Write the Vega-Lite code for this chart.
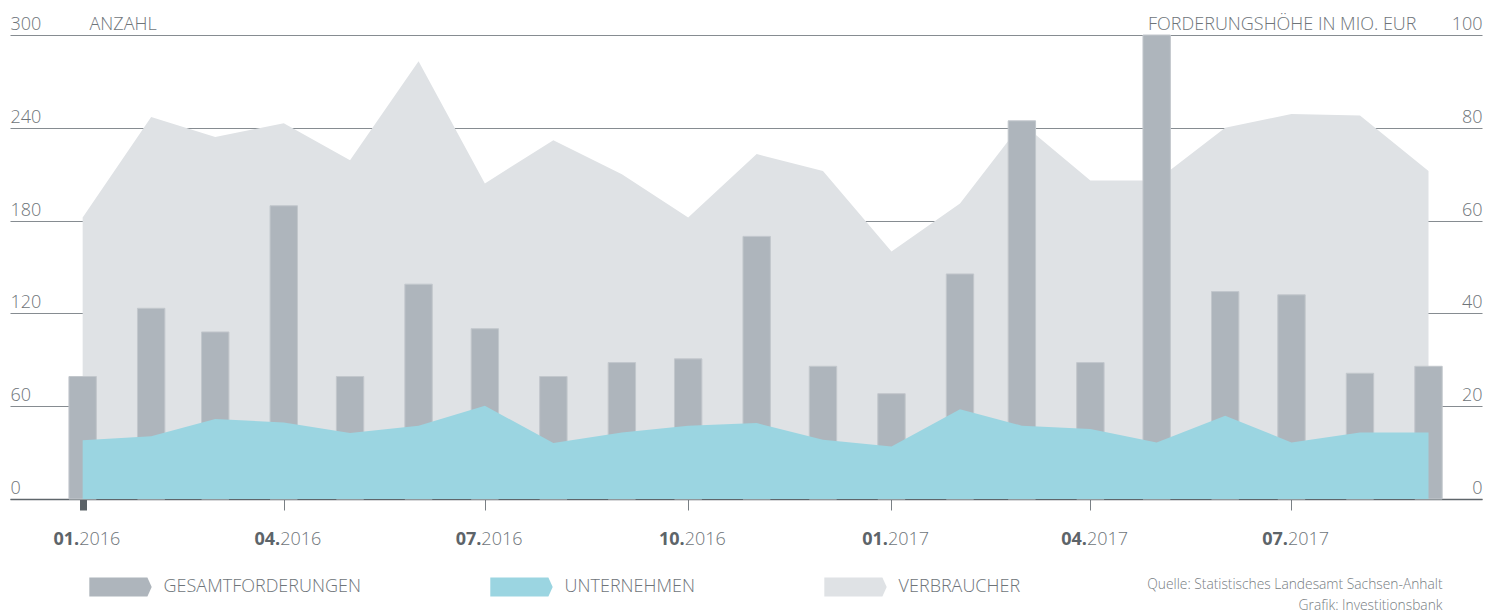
{
  "$schema": "https://vega.github.io/schema/vega-lite/v6.json",
  "width": 1472,
  "height": 464,
  "autosize": {"type": "none"},
  "padding": {"left": 10, "top": 35, "right": 20, "bottom": 114},
  "background": "#ffffff",
  "config": {
    "view": {"stroke": null},
    "font": "Open Sans, sans-serif"
  },
  "data": {
    "values": [
      {"monat": "2016-01-01", "gesamtforderungen": 26.4, "unternehmen": 38.0, "verbraucher": 182},
      {"monat": "2016-02-01", "gesamtforderungen": 41.1, "unternehmen": 40.5, "verbraucher": 247},
      {"monat": "2016-03-01", "gesamtforderungen": 36.0, "unternehmen": 51.7, "verbraucher": 234},
      {"monat": "2016-04-01", "gesamtforderungen": 63.2, "unternehmen": 49.5, "verbraucher": 243},
      {"monat": "2016-05-01", "gesamtforderungen": 26.4, "unternehmen": 42.6, "verbraucher": 219},
      {"monat": "2016-06-01", "gesamtforderungen": 46.3, "unternehmen": 47.4, "verbraucher": 283},
      {"monat": "2016-07-01", "gesamtforderungen": 36.7, "unternehmen": 60.3, "verbraucher": 204},
      {"monat": "2016-08-01", "gesamtforderungen": 26.4, "unternehmen": 36.2, "verbraucher": 232},
      {"monat": "2016-09-01", "gesamtforderungen": 29.4, "unternehmen": 43.0, "verbraucher": 210},
      {"monat": "2016-10-01", "gesamtforderungen": 30.2, "unternehmen": 47.4, "verbraucher": 182},
      {"monat": "2016-11-01", "gesamtforderungen": 56.6, "unternehmen": 49.1, "verbraucher": 223},
      {"monat": "2016-12-01", "gesamtforderungen": 28.6, "unternehmen": 38.3, "verbraucher": 212},
      {"monat": "2017-01-01", "gesamtforderungen": 22.7, "unternehmen": 34.0, "verbraucher": 160},
      {"monat": "2017-02-01", "gesamtforderungen": 48.5, "unternehmen": 58.1, "verbraucher": 191},
      {"monat": "2017-03-01", "gesamtforderungen": 81.5, "unternehmen": 47.4, "verbraucher": 243},
      {"monat": "2017-04-01", "gesamtforderungen": 29.4, "unternehmen": 45.2, "verbraucher": 206},
      {"monat": "2017-05-01", "gesamtforderungen": 100, "unternehmen": 36.6, "verbraucher": 206},
      {"monat": "2017-06-01", "gesamtforderungen": 44.7, "unternehmen": 53.8, "verbraucher": 240},
      {"monat": "2017-07-01", "gesamtforderungen": 44.0, "unternehmen": 36.6, "verbraucher": 249},
      {"monat": "2017-08-01", "gesamtforderungen": 27.1, "unternehmen": 43.0, "verbraucher": 248},
      {"monat": "2017-09-01", "gesamtforderungen": 28.6, "unternehmen": 43.0, "verbraucher": 212}
    ]
  },
  "layer": [
    {
      "mark": {"type": "area", "opacity": 1, "interpolate": "linear"},
      "encoding": {
        "x": {
          "field": "monat", "type": "temporal",
          "scale": {"type": "utc", "padding": 0, "domain": [{"year": 2015, "month": 11, "date": 29, "hours": 3, "utc": true}, {"year": 2017, "month": 9, "date": 25, "hours": 5, "utc": true}]},
          "axis": {
            "orient": "bottom",
            "values": [
              {"year": 2016, "month": 1, "date": 1, "utc": true},
              {"year": 2016, "month": 4, "date": 1, "utc": true},
              {"year": 2016, "month": 7, "date": 1, "utc": true},
              {"year": 2016, "month": 10, "date": 1, "utc": true},
              {"year": 2017, "month": 1, "date": 1, "utc": true},
              {"year": 2017, "month": 4, "date": 1, "utc": true},
              {"year": 2017, "month": 7, "date": 1, "utc": true}
            ],
            "labelExpr": "utcFormat(datum.value, '%m.')",
            "labelAlign": "right",
            "labelBaseline": "alphabetic",
            "labelPadding": 34,
            "labelOffset": -4,
            "labelFontSize": 18,
            "labelFontWeight": "bold",
            "labelColor": "#5d6469",
            "labelFlush": false,
            "labelOverlap": false,
            "ticks": true,
            "tickSize": 11,
            "tickColor": {"condition": {"test": "utcyear(datum.value) === 2016 && utcmonth(datum.value) === 0", "value": "#5b6267"}, "value": "#7a8085"},
            "tickWidth": {"condition": {"test": "utcyear(datum.value) === 2016 && utcmonth(datum.value) === 0", "value": 7}, "value": 1},
            "domain": true,
            "domainColor": "#5f666b",
            "domainWidth": 1.5,
            "grid": false,
            "title": null
          }
        },
        "y": {
          "field": "verbraucher", "type": "quantitative", "stack": null,
          "scale": {"domain": [0, 300], "nice": false, "zero": true},
          "axis": {
            "orient": "left",
            "values": [0, 60, 120, 180, 240, 300],
            "title": "ANZAHL",
            "titleAngle": 0,
            "titleAlign": "left",
            "titleBaseline": "alphabetic",
            "titleX": 79,
            "titleY": -6,
            "titleFontSize": 18,
            "titleFontWeight": 300,
            "titleColor": "#6e7479",
            "grid": true,
            "gridColor": "#868c91",
            "gridWidth": 1.2,
            "domain": false,
            "ticks": false,
            "tickSize": 0,
            "labelAlign": "left",
            "labelBaseline": "alphabetic",
            "labelPadding": 0,
            "labelOffset": -5.5,
            "labelFontSize": 18,
            "labelFontWeight": 300,
            "labelColor": "#6e7479",
            "labelFlush": false,
            "labelOverlap": false
          }
        },
        "color": {
          "datum": "VERBRAUCHER", "type": "nominal",
          "scale": {"domain": ["GESAMTFORDERUNGEN", "UNTERNEHMEN", "VERBRAUCHER"], "range": ["#aeb5bc", "#9bd5e1", "#dfe2e5"]},
          "legend": {
            "orient": "none",
            "legendX": 79,
            "legendY": 520,
            "direction": "horizontal",
            "title": null,
            "symbolType": "M-1,-0.305L0.862,-0.305L1,0L0.862,0.305L-1,0.305Z",
            "symbolSize": 3894,
            "symbolStrokeWidth": 0,
            "symbolOpacity": 1,
            "labelFontSize": 18,
            "labelFontWeight": 300,
            "labelColor": "#6e7479",
            "labelOffset": 11.6,
            "labelLimit": 0,
            "columnPadding": 129,
            "padding": 0
          }
        }
      }
    },
    {
      "mark": {"type": "bar", "size": 27.4, "stroke": "#c2c7cc", "strokeWidth": 1, "opacity": 1},
      "encoding": {
        "x": {
          "field": "monat", "type": "temporal",
          "scale": {"type": "utc", "padding": 0, "domain": [{"year": 2015, "month": 11, "date": 29, "hours": 3, "utc": true}, {"year": 2017, "month": 9, "date": 25, "hours": 5, "utc": true}]},
          "axis": {
            "orient": "bottom",
            "values": [
              {"year": 2016, "month": 1, "date": 1, "utc": true},
              {"year": 2016, "month": 4, "date": 1, "utc": true},
              {"year": 2016, "month": 7, "date": 1, "utc": true},
              {"year": 2016, "month": 10, "date": 1, "utc": true},
              {"year": 2017, "month": 1, "date": 1, "utc": true},
              {"year": 2017, "month": 4, "date": 1, "utc": true},
              {"year": 2017, "month": 7, "date": 1, "utc": true}
            ],
            "labelExpr": "utcFormat(datum.value, '%Y')",
            "labelAlign": "left",
            "labelBaseline": "alphabetic",
            "labelPadding": 34,
            "labelOffset": -4,
            "labelFontSize": 18,
            "labelFontWeight": 300,
            "labelColor": "#6e7479",
            "labelFlush": false,
            "labelOverlap": false,
            "ticks": true,
            "tickSize": 11,
            "tickOpacity": 0,
            "domain": false,
            "grid": false,
            "title": ["Quelle: Statistisches Landesamt Sachsen-Anhalt", "Grafik: Investitionsbank"],
            "titleX": 1432,
            "titleY": 89,
            "titleAlign": "right",
            "titleBaseline": "alphabetic",
            "titleFontSize": 13.8,
            "titleFontWeight": 300,
            "titleColor": "#777d82",
            "titleLineHeight": 21
          }
        },
        "y": {
          "field": "gesamtforderungen", "type": "quantitative",
          "scale": {"domain": [0, 100], "nice": false, "zero": true},
          "axis": {
            "orient": "right",
            "values": [0, 20, 40, 60, 80, 100],
            "title": "FORDERUNGSHÖHE IN MIO. EUR",
            "titleAngle": 0,
            "titleAlign": "right",
            "titleBaseline": "alphabetic",
            "titleX": -66,
            "titleY": -6,
            "titleFontSize": 18,
            "titleFontWeight": 300,
            "titleColor": "#6e7479",
            "grid": false,
            "domain": false,
            "ticks": false,
            "tickSize": 0,
            "labelAlign": "right",
            "labelBaseline": "alphabetic",
            "labelPadding": 0,
            "labelOffset": -5.5,
            "labelFontSize": 18,
            "labelFontWeight": 300,
            "labelColor": "#6e7479",
            "labelFlush": false,
            "labelOverlap": false
          }
        },
        "color": {"datum": "GESAMTFORDERUNGEN", "type": "nominal"}
      }
    },
    {
      "mark": {"type": "area", "opacity": 1, "interpolate": "linear"},
      "encoding": {
        "x": {
          "field": "monat", "type": "temporal",
          "scale": {"type": "utc", "padding": 0, "domain": [{"year": 2015, "month": 11, "date": 29, "hours": 3, "utc": true}, {"year": 2017, "month": 9, "date": 25, "hours": 5, "utc": true}]},
          "axis": null
        },
        "y": {
          "field": "unternehmen", "type": "quantitative", "stack": null,
          "scale": {"domain": [0, 300], "nice": false, "zero": true},
          "axis": null
        },
        "color": {"datum": "UNTERNEHMEN", "type": "nominal"}
      }
    }
  ],
  "resolve": {"scale": {"y": "independent"}, "axis": {"x": "independent", "y": "independent"}}
}
